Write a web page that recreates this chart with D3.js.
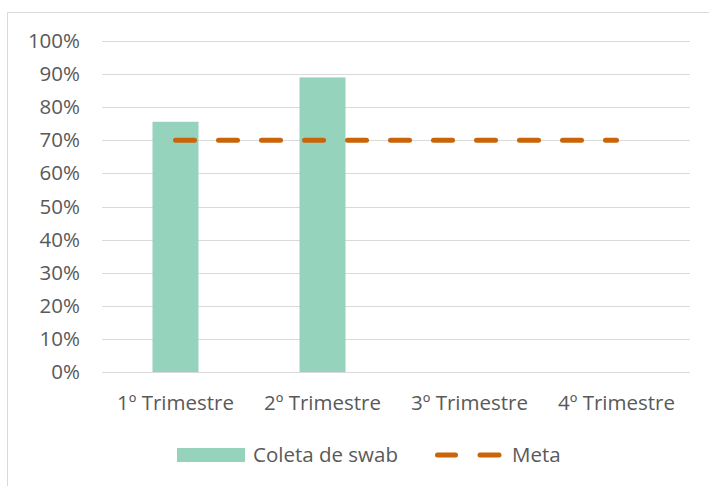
<!DOCTYPE html>
<html><head><meta charset="utf-8">
<script src="https://cdn.jsdelivr.net/npm/d3@7"></script>
<style>body{margin:0;background:#fff}svg{display:block}text{font-family:"Open Sans","Noto Sans",sans-serif;fill:#595959}</style>
</head><body>
<div id="chart"></div>
<script>
const categories = ["1º Trimestre","2º Trimestre","3º Trimestre","4º Trimestre"];
const coletaSwab = [0.756, 0.89, null, null];
const meta = [0.70, 0.70, 0.70, 0.70];
const yTicks = [0,0.1,0.2,0.3,0.4,0.5,0.6,0.7,0.8,0.9,1.0];
const seriesNames = ["Coleta de swab","Meta"];

const W=709,H=486;
const FS=20.5;
const svg=d3.select("#chart").append("svg").attr("width",W).attr("height",H);
// chart border
svg.append("path").attr("d","M7.5,486 V12.5 H709").attr("fill","none").attr("stroke","#d9d9d9").attr("stroke-width",1);

const x=d3.scaleBand().domain(categories).range([102,690]).paddingInner(0).paddingOuter(0);
const y=d3.scaleLinear().domain([0,1]).range([372,41]);
const barColor="#95d3bd", metaColor="#c96508";

// gridlines
svg.append("g").selectAll("line").data(yTicks.filter(d=>d>0)).join("line")
  .attr("x1",102).attr("x2",690).attr("y1",d=>Math.round(y(d))+0.5).attr("y2",d=>Math.round(y(d))+0.5)
  .attr("stroke","#d9d9d9").attr("stroke-width",1);

// y axis labels
const yAxis=d3.axisLeft(y).tickValues(yTicks).tickFormat(d3.format(".0%")).tickSize(0).tickPadding(22);
const ga=svg.append("g").attr("transform","translate(102,0)").call(yAxis);
ga.select(".domain").remove();
ga.selectAll("text").attr("font-size",FS).style("font-family",'"Open Sans","Noto Sans",sans-serif').attr("fill","#595959");

// bars
const bw=46;
svg.append("g").selectAll("rect").data(categories.map((c,i)=>({c,v:coletaSwab[i]})).filter(d=>d.v!=null)).join("rect")
  .attr("x",d=>x(d.c)+x.bandwidth()/2-bw/2).attr("width",bw)
  .attr("y",d=>y(d.v)).attr("height",d=>y(0)-y(d.v)).attr("fill",barColor);

// x axis
svg.append("line").attr("x1",102).attr("x2",690).attr("y1",372.5).attr("y2",372.5).attr("stroke","#d9d9d9");
const xAxis=d3.axisBottom(x).tickSize(0).tickPadding(21);
const gx=svg.append("g").attr("transform","translate(0,372)").call(xAxis);
gx.select(".domain").remove();
gx.selectAll("text").attr("font-size",FS).attr("dy","0.35em").attr("y",31).style("font-family",'"Open Sans","Noto Sans",sans-serif').attr("fill","#595959");

// meta line
const line=d3.line().x((d,i)=>x(categories[i])+x.bandwidth()/2).y(d=>y(d));
svg.append("path").datum(meta).attr("d",line).attr("fill","none").attr("stroke",metaColor)
  .attr("stroke-width",5).attr("stroke-linecap","round").attr("stroke-dasharray","19,24");

// legend
const lg=svg.append("g");
lg.append("rect").attr("x",177).attr("y",448).attr("width",68).attr("height",14).attr("fill",barColor);
lg.append("text").attr("x",253).attr("y",455).attr("dy","0.35em").attr("font-size",FS).text(seriesNames[0]);
lg.append("line").attr("x1",437.5).attr("x2",455.5).attr("y1",455).attr("y2",455).attr("stroke",metaColor).attr("stroke-width",5).attr("stroke-linecap","round");
lg.append("line").attr("x1",480).attr("x2",499).attr("y1",455).attr("y2",455).attr("stroke",metaColor).attr("stroke-width",5).attr("stroke-linecap","round");
lg.append("text").attr("x",512).attr("y",455).attr("dy","0.35em").attr("font-size",FS).text(seriesNames[1]);
</script>
</body></html>
